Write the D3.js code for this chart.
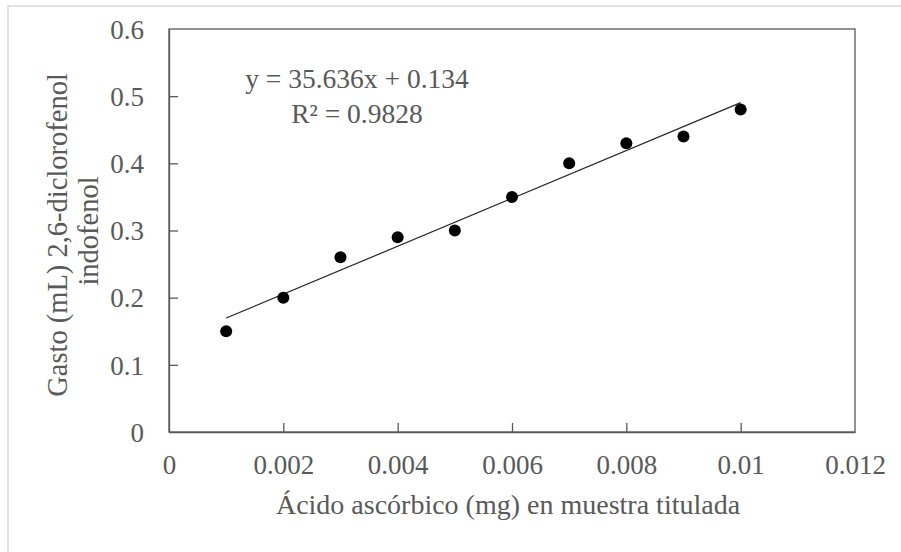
<!DOCTYPE html>
<html><head><meta charset="utf-8">
<script src="https://cdn.jsdelivr.net/npm/d3@7"></script>
<style>body{margin:0;background:#fff;}</style></head>
<body><svg id="c" width="901" height="552"></svg>
<script>
const xValues = [0.001,0.002,0.003,0.004,0.005,0.006,0.007,0.008,0.009,0.01];
const yValues = [0.15,0.20,0.26,0.29,0.30,0.35,0.40,0.43,0.44,0.48];
const xTicks = [0,0.002,0.004,0.006,0.008,0.01,0.012];
const yTicks = [0,0.1,0.2,0.3,0.4,0.5,0.6];
const trendSlope = 35.636, trendIntercept = 0.134;
const eqLabel = "y = 35.636x + 0.134";
const r2Label = "R² = 0.9828";
const xTitle = "Ácido ascórbico (mg) en muestra titulada";
const yTitleLines = ["Gasto (mL) 2,6-diclorofenol","indofenol"];

const FONT = '"Liberation Serif"';
const GRAY = "#595959";
const svg = d3.select("#c");
const L=169,R=855,T=29,B=432;
const x = d3.scaleLinear().domain([0,0.012]).range([L,R]);
const y = d3.scaleLinear().domain([0,0.6]).range([B,T]);

// outer frame
svg.append("rect").attr("x",8).attr("y",6).attr("width",910).attr("height",560)
  .attr("fill","none").attr("stroke","#d9d9d9").attr("stroke-width",1.5);

// plot box
svg.append("rect").attr("x",L).attr("y",T).attr("width",R-L).attr("height",B-T)
  .attr("fill","none").attr("stroke",GRAY).attr("stroke-width",1.3);

// axes with inside ticks
const xa = svg.append("g").attr("transform",`translate(0,${B})`)
  .call(d3.axisBottom(x).tickValues(xTicks).tickSizeInner(-9).tickSizeOuter(0).tickFormat(d=>String(+d.toFixed(4))));
xa.select(".domain").attr("stroke",GRAY).attr("stroke-width",1.3);
xa.selectAll(".tick line").attr("stroke",GRAY).attr("stroke-width",1.3);
xa.selectAll(".tick text").attr("y",42).attr("dy",null)
  .style("font-family",FONT).style("font-size","27px").attr("fill",GRAY);

const ya = svg.append("g").attr("transform",`translate(${L},0)`)
  .call(d3.axisLeft(y).tickValues(yTicks).tickSizeInner(-9).tickSizeOuter(0).tickFormat(d=>String(+d.toFixed(2))));
ya.select(".domain").attr("stroke",GRAY).attr("stroke-width",1.3);
ya.selectAll(".tick line").attr("stroke",GRAY).attr("stroke-width",1.3);
ya.selectAll(".tick text").attr("x",-25).attr("dy","0.34em")
  .style("font-family",FONT).style("font-size","27px").attr("fill",GRAY);
ya.selectAll(".tick").filter(d=>d===0||d===0.6).select("line").remove();
xa.selectAll(".tick").filter(d=>d===0||d===0.012).select("line").remove();

// trendline
const x0 = xValues[0], x1 = xValues[xValues.length-1];
svg.append("line")
  .attr("x1",x(x0)).attr("y1",y(trendSlope*x0+trendIntercept))
  .attr("x2",x(x1)).attr("y2",y(trendSlope*x1+trendIntercept))
  .attr("stroke","#262626").attr("stroke-width",1.2);

// points
svg.append("g").selectAll("circle").data(xValues.map((v,i)=>[v,yValues[i]]))
  .join("circle").attr("cx",d=>x(d[0])).attr("cy",d=>y(d[1])).attr("r",6).attr("fill","#000");

// equation labels
svg.append("text").attr("x",357).attr("y",88).attr("text-anchor","middle").attr("fill",GRAY)
  .style("font-family",FONT).style("font-size","27.5px").text(eqLabel);
svg.append("text").attr("x",357).attr("y",123).attr("text-anchor","middle").attr("fill",GRAY)
  .style("font-family",FONT).style("font-size","27.5px").text(r2Label);

// x title
svg.append("text").attr("x",508).attr("y",514).attr("text-anchor","middle").attr("fill",GRAY)
  .style("font-family",FONT).style("font-size","28px").text(xTitle);

// y title (two lines)
const yLineX = [67,98], yLineCenter = [235,231];
yTitleLines.forEach((t,i)=>{
  svg.append("text").attr("transform",`translate(${yLineX[i]},${yLineCenter[i]}) rotate(-90)`)
    .attr("fill",GRAY).attr("text-anchor","middle")
    .style("font-family",FONT).style("font-size","28.5px").text(t);
});
</script></body></html>
